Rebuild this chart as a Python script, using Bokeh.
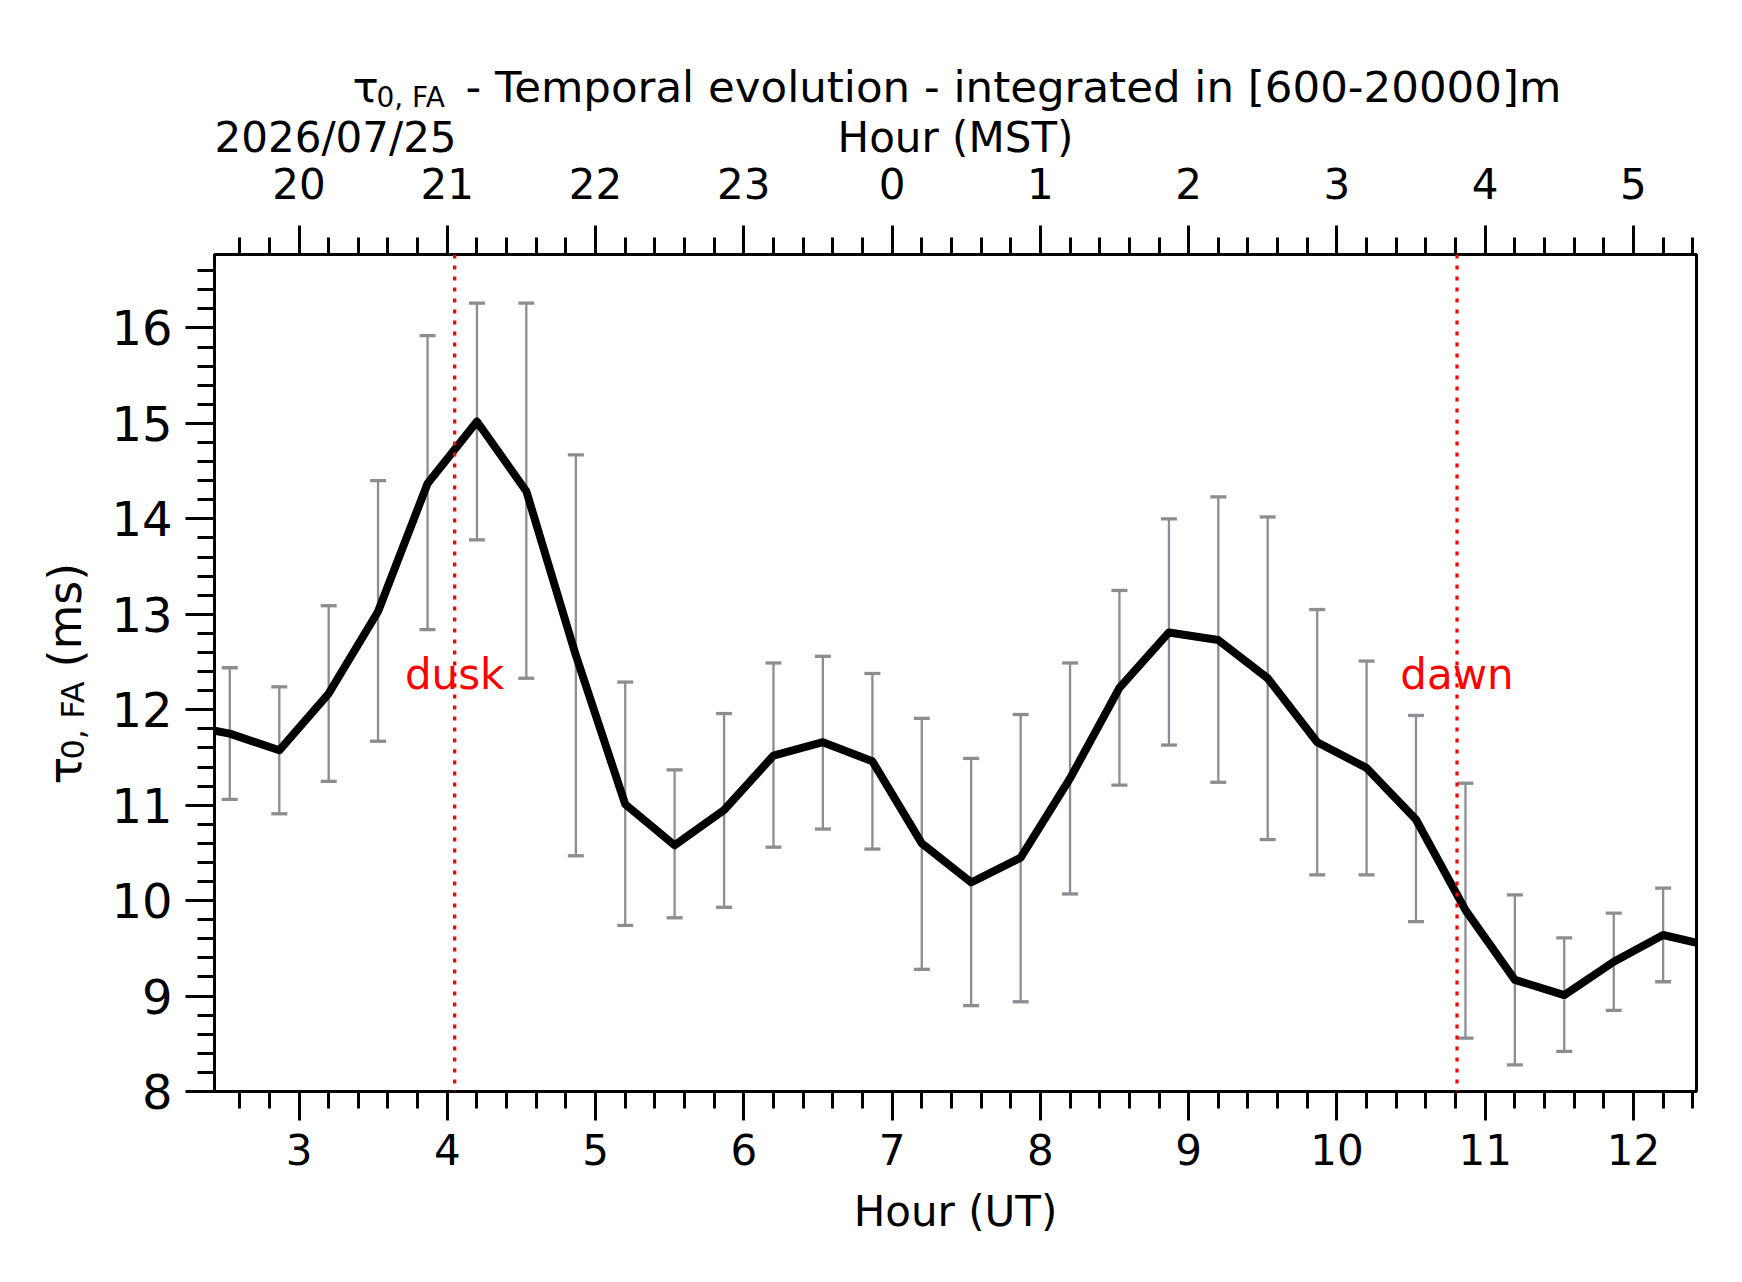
import math
from bokeh.plotting import figure
from bokeh.layouts import column, row
from bokeh.models import LinearAxis, FixedTicker, Range1d, Span, Label, ColumnDataSource
from bokeh.embed import file_html
from bokeh.resources import INLINE

# ---------------- data ----------------
ut_hours = [2.2, 2.533, 2.867, 3.2, 3.533, 3.867, 4.2, 4.533, 4.867, 5.2, 5.533,
            5.867, 6.2, 6.533, 6.867, 7.2, 7.533, 7.867, 8.2, 8.533, 8.867, 9.2,
            9.533, 9.867, 10.2, 10.533, 10.867, 11.2, 11.533, 11.867, 12.2, 12.533]
tau = [11.85, 11.75, 11.575, 12.17, 13.03, 14.37, 15.02, 14.29, 12.57, 11.01, 10.58,
       10.95, 11.52, 11.66, 11.46, 10.60, 10.19, 10.45, 11.28, 12.23, 12.81, 12.73,
       12.33, 11.66, 11.39, 10.85, 9.90, 9.17, 9.01, 9.36, 9.64, 9.52]
tau_low = [float("nan"), 11.06, 10.91, 11.25, 11.67, 12.84, 13.78, 12.33, 10.47, 9.74, 9.82,
           9.93, 10.56, 10.75, 10.54, 9.28, 8.90, 8.94, 10.07, 11.21, 11.63, 11.24,
           10.64, 10.27, 10.27, 9.78, 8.56, 8.28, 8.42, 8.85, 9.15, float("nan")]
tau_high = [float("nan"), 12.44, 12.24, 13.09, 14.40, 15.92, 16.26, 16.26, 14.67, 12.29, 11.37,
            11.96, 12.49, 12.56, 12.38, 11.91, 11.49, 11.95, 12.49, 13.25, 14.00, 14.23,
            14.02, 13.05, 12.51, 11.94, 11.23, 10.06, 9.61, 9.87, 10.13, float("nan")]

x_major = [3, 4, 5, 6, 7, 8, 9, 10, 11, 12]
mst_labels = ["20", "21", "22", "23", "0", "1", "2", "3", "4", "5"]
y_major = [8, 9, 10, 11, 12, 13, 14, 15, 16]

dusk_ut = 4.05
dawn_ut = 10.81
date_text = "2026/07/25"
title_main = "- Temporal evolution - integrated in [600-20000]m"

x_lo, x_hi = 2.43, 12.425
y_lo, y_hi = 8.0, 16.77

# ---------------- layout constants ----------------
FONT = "DejaVu Sans"
GRAY = "#8b8d93"
BF = 0.34          # baseline correction (em)
FW, FH = 1482, 837  # frame size
T_H = 219          # height of the title strip
T_BOT = 60         # title strip bottom border (holds MST tick labels)
YL_W = 100         # width of the y-label strip
P_L, P_R, P_T, P_B = 114, 24, 35, 175
P_H = P_T + FH + P_B

x_minor = [round(2.4 + 0.2 * i, 2) for i in range(51)]
y_minor = [round(8.0 + 0.2 * i, 2) for i in range(44)]
xr = Range1d(x_lo, x_hi)


def blank(fig):
    fig.background_fill_color = "white"
    fig.border_fill_color = "white"
    fig.outline_line_color = None
    fig.grid.visible = False


def style_axis(ax, size):
    ax.axis_line_color = "black"
    ax.axis_line_width = 3
    ax.major_tick_line_width = 3
    ax.minor_tick_line_width = 3
    ax.major_tick_out = 29
    ax.major_tick_in = 0
    ax.minor_tick_out = 17
    ax.minor_tick_in = 0
    ax.major_label_text_font = FONT
    ax.major_label_text_font_size = size
    ax.major_label_text_color = "black"


# ---------------- main plot ----------------
p = figure(frame_width=FW, frame_height=FH, x_range=xr, y_range=Range1d(y_lo, y_hi),
           output_backend="svg", toolbar_location=None,
           min_border_left=P_L, min_border_top=P_T, min_border_right=P_R, min_border_bottom=P_B,
           x_axis_location=None, y_axis_location=None)
blank(p)
p.outline_line_color = "black"
p.outline_line_width = 3

bottom = LinearAxis(ticker=FixedTicker(ticks=x_major, minor_ticks=x_minor))
style_axis(bottom, "42px")
bottom.major_label_standoff = 13
bottom.axis_label = "Hour (UT)"
bottom.axis_label_text_font = FONT
bottom.axis_label_text_font_size = "42px"
bottom.axis_label_text_font_style = "normal"
bottom.axis_label_text_color = "black"
bottom.axis_label_standoff = 19
p.add_layout(bottom, "below")

top = LinearAxis(ticker=FixedTicker(ticks=x_major, minor_ticks=x_minor))
style_axis(top, "0px")
top.major_label_standoff = 0
top.major_label_text_color = None
p.add_layout(top, "above")

left = LinearAxis(ticker=FixedTicker(ticks=y_major, minor_ticks=y_minor))
style_axis(left, "48px")
left.major_label_standoff = 13
p.add_layout(left, "left")

eb = ColumnDataSource(dict(
    x=[x for x, l in zip(ut_hours, tau_low) if not math.isnan(l)],
    lo=[l for l in tau_low if not math.isnan(l)],
    hi=[h for h in tau_high if not math.isnan(h)],
))
p.segment(x0="x", y0="lo", x1="x", y1="hi", source=eb, line_color=GRAY, line_width=2.3)
p.scatter(x="x", y="lo", source=eb, marker="dash", size=16, line_color=GRAY, line_width=3.3)
p.scatter(x="x", y="hi", source=eb, marker="dash", size=16, line_color=GRAY, line_width=3.3)

p.line(ut_hours, tau, line_color="black", line_width=8, line_join="round")

for xv in (dusk_ut, dawn_ut):
    p.add_layout(Span(location=xv, dimension="height", line_color="red",
                      line_width=3.3, line_dash="4 7"))

for xv, txt in ((dusk_ut, "dusk"), (dawn_ut, "dawn")):
    p.add_layout(Label(x=xv, y=12.19 + 0.40 * 42 / 95.4, text=txt, text_color="red", text_font=FONT,
                       text_font_size="42px", text_align="center", text_baseline="alphabetic"))

# ---------------- title strip (title, date, MST axis) ----------------
t = figure(width=YL_W + P_L + FW + P_R, height=T_H, x_range=xr, y_range=Range1d(0, T_H - T_BOT),
           output_backend="svg", toolbar_location=None,
           min_border_left=P_L + YL_W, min_border_right=P_R, min_border_top=0,
           min_border_bottom=T_BOT, x_axis_location=None, y_axis_location=None)
blank(t)
mst = LinearAxis(ticker=FixedTicker(ticks=x_major, minor_ticks=[]))
style_axis(mst, "42px")
mst.axis_line_color = None
mst.major_tick_line_color = None
mst.minor_tick_line_color = None
mst.major_tick_out = 0
mst.minor_tick_out = 0
mst.major_label_standoff = 8
mst.major_label_overrides = {tk: s for tk, s in zip(x_major, mst_labels)}
t.add_layout(mst, "below")


def lab(fig, x, y, text, size, angle=0.0, align="left"):
    fig.add_layout(Label(x=x, y=y, x_units="screen", y_units="screen", text=text,
                         text_font=FONT, text_font_size=f"{size}px", text_color="black",
                         angle=angle, text_align=align, text_baseline="alphabetic"))


# frame of t: left edge at x_real = 215, bottom edge at y_real = 160
lab(t, 353 - 215, 160 - 102 + BF * 43.5, "τ", 43.5)
lab(t, 377 - 215, 160 - 108 + BF * 28, "0, FA", 28)
lab(t, 466 - 215, 160 - 102 + BF * 43.5, title_main, 43.5)
lab(t, 0, 160 - 152 + BF * 42, date_text, 42)
lab(t, FW / 2, 160 - 152 + BF * 42, "Hour (MST)", 42, align="center")

# ---------------- y-label strip ----------------
# its frame is aligned with the main frame: left at x_real = 1, bottom at y_real = 1092
yl = figure(width=YL_W, height=P_H, x_range=Range1d(0, YL_W), y_range=Range1d(0, FH),
            output_backend="svg", toolbar_location=None,
            min_border_left=0, min_border_right=0, min_border_top=0, min_border_bottom=0,
            x_axis_location=None, y_axis_location=None)
blank(yl)
anchors = [(81, 785, "τ", 46), (84, 760, "0, FA", 32), (81, 668, "(ms)", 46)]
for ax_, ay_, txt, fs in anchors:
    lab(yl, ax_ - 1 - BF * fs, 1092 - ay_, txt, fs, angle=math.pi / 2)

root = column(t, row(yl, p, spacing=0), spacing=0)
open("out.html", "w").write(file_html(root, INLINE))
